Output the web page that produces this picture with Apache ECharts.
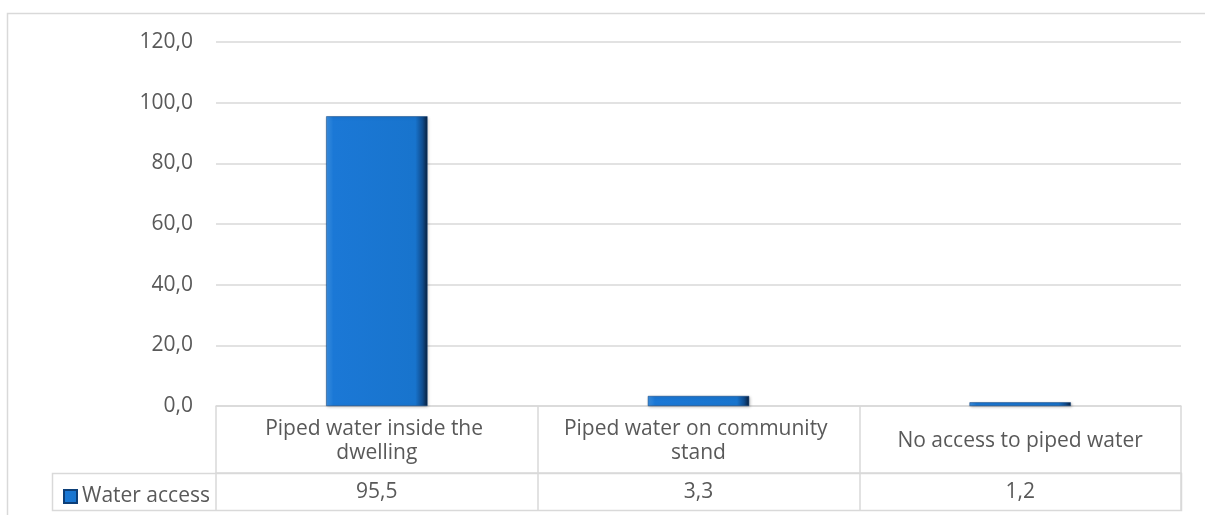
<!DOCTYPE html>
<html>
<head>
<meta charset="utf-8">
<script src="https://cdn.jsdelivr.net/npm/echarts@6/dist/echarts.min.js"></script>
<style>
html,body{margin:0;padding:0;background:#fff;}
#chart{width:1205px;height:515px;}
</style>
</head>
<body>
<div id="chart"></div>
<script>
const categories = ['Piped water inside the dwelling', 'Piped water on community stand', 'No access to piped water'];
const seriesName = 'Water access';
const values = [95.5, 3.3, 1.2];
const yTicks = [0, 20, 40, 60, 80, 100, 120];

const FONT = '"Open Sans", sans-serif';
const TXT = '#595959';
const LINE = '#d9d9d9';
const fmt = v => Number(v).toFixed(1).replace('.', ',');

const chart = echarts.init(document.getElementById('chart'));
const barGrad = new echarts.graphic.LinearGradient(0, 0, 1, 0, [
  {offset: 0, color: '#3b8fe0'},
  {offset: 0.07, color: '#1b78d6'},
  {offset: 0.88, color: '#1874cd'},
  {offset: 0.95, color: '#0f4c8e'},
  {offset: 1, color: '#09203d'}
]);
chart.setOption({
  animation: false,
  backgroundColor: '#fff',
  textStyle: {fontFamily: FONT},
  grid: {left: 216, right: 24, top: 42, bottom: 109, containLabel: false},
  legend: {
    data: [seriesName],
    left: 58, top: 481,
    icon: 'rect', itemWidth: 13, itemHeight: 13, itemGap: 4,
    textStyle: {fontFamily: FONT, fontSize: 21, color: TXT}
  },
  graphic: [
    {type: 'rect', silent: true, z: 0,
     shape: {x: 7.5, y: 13.5, width: 1400, height: 700},
     style: {fill: 'none', stroke: LINE, lineWidth: 1.5}},
    {type: 'rect', silent: true, z: 0,
     shape: {x: 52.5, y: 473.5, width: 1129, height: 37},
     style: {fill: 'none', stroke: LINE, lineWidth: 1.5}}
  ],
  xAxis: [
    {
      type: 'category', data: categories, position: 'bottom',
      axisLine: {show: true, lineStyle: {color: LINE, width: 1.5}},
      axisTick: {show: true, length: 67, interval: 0, lineStyle: {color: LINE, width: 1.5}},
      axisLabel: {
        interval: 0, margin: 35, verticalAlign: 'middle',
        fontFamily: FONT, fontSize: 21, color: TXT, lineHeight: 24,
        width: 285, overflow: 'break', align: 'center'
      },
      splitLine: {show: false}
    },
    {
      type: 'category', data: values.map(fmt), position: 'bottom', offset: 67,
      axisLine: {show: true, lineStyle: {color: LINE, width: 1.5}},
      axisTick: {show: true, length: 37, interval: 0, lineStyle: {color: LINE, width: 1.5}},
      axisLabel: {interval: 0, margin: 19, verticalAlign: 'middle',
        fontFamily: FONT, fontSize: 21, color: TXT}
    }
  ],
  yAxis: {
    type: 'value', min: yTicks[0], max: yTicks[yTicks.length - 1], interval: 20,
    axisLine: {show: false}, axisTick: {show: false},
    axisLabel: {formatter: fmt, margin: 23, fontFamily: FONT, fontSize: 21, color: TXT},
    splitLine: {lineStyle: {color: LINE, width: 1.5}}
  },
  series: [{
    name: seriesName, type: 'bar', data: values, xAxisIndex: 0,
    barWidth: '31.5%',
    itemStyle: {
      color: barGrad,
      borderColor: '#0d3f78', borderWidth: 0.5,
      shadowColor: 'rgba(0,0,0,0.25)', shadowBlur: 3, shadowOffsetX: 1, shadowOffsetY: 1
    }
  }]
});
</script>
</body>
</html>
